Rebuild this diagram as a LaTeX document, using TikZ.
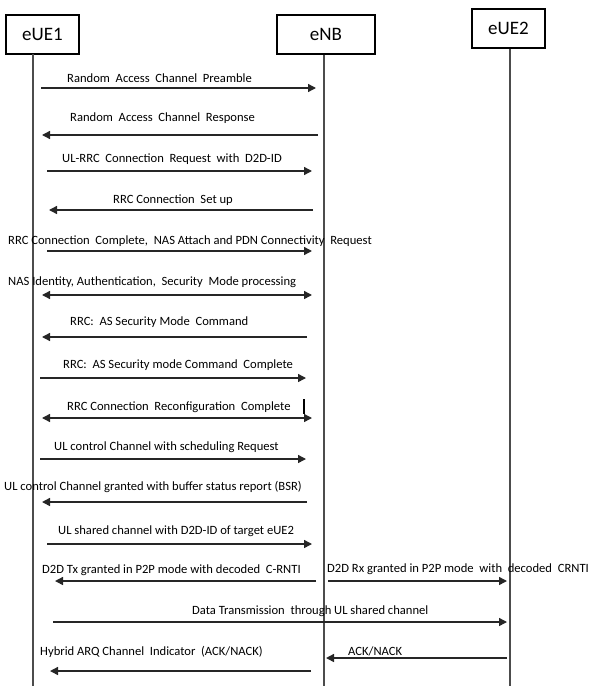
\documentclass[tikz,border=0pt]{standalone}
\usepackage{fontspec}
\setmainfont{Carlito}
\usetikzlibrary{arrows.meta}

\begin{document}
\begin{tikzpicture}[x=1pt, y=-1pt,
      actor/.style = {draw, line width=1.3pt, minimum height=39pt, inner sep=0pt, font=\fontsize{19}{22}\selectfont},
      lbl/.style = {anchor=west, inner sep=0pt, font=\fontsize{12.6}{14}\selectfont},
      life/.style = {draw=black!70, line width=1.4pt},
      msg/.style = {draw=black!85, line width=1.4pt, -{Triangle[length=8pt,width=8pt]}},
      both/.style = {msg, {Triangle[length=8pt,width=8pt]}-{Triangle[length=8pt,width=8pt]}}]
  \useasboundingbox (0,0) rectangle (599,686);
  % actors and lifelines
  \node[actor, minimum width=73pt] (eUE1) at (42.5,34.5) {eUE1};
  \node[actor, minimum width=98pt] (eNB) at (326,34.5) {eNB};
  \node[actor, minimum width=73pt] (eUE2) at (508.5,28.5) {eUE2};
  \coordinate (l1) at (33,54); \coordinate (l1end) at (33,686);
  \coordinate (l2end) at (324,686);
  \coordinate (l3end) at (510,686);
  \draw[life] (l1) -- (l1end);
  \draw[life] (eNB.south -| l2end) -- (l2end);
  \draw[life] (eUE2.south -| l3end) -- (l3end);

  % messages
  \node[lbl] (t1) at (67,78) {Random\ \ Access\ \ Channel\ \ Preamble};
  \coordinate (m1a) at (41,88); \coordinate (m1b) at (316,88);
  \draw[msg] (m1a) -- (m1b);

  \node[lbl] (t2) at (70,118) {Random\ \ Access\ \ Channel\ \ Response};
  \coordinate (m2a) at (318,135); \coordinate (m2b) at (42,135);
  \draw[msg] (m2a) -- (m2b);

  \node[lbl] (t3) at (62,159) {UL-RRC\ \ Connection\ \ Request\ \ with\ \ D2D-ID};
  \coordinate (m3a) at (47,171); \coordinate (m3b) at (312,171);
  \draw[msg] (m3a) -- (m3b);

  \node[lbl] (t4) at (113,200) {RRC Connection\ \ Set up};
  \coordinate (m4a) at (313,210); \coordinate (m4b) at (49,210);
  \draw[msg] (m4a) -- (m4b);

  \node[lbl] (t5) at (8,241) {RRC Connection\ \ Complete,\ \ NAS Attach and PDN Connectivity\ \ Request};
  \coordinate (m5a) at (47,251); \coordinate (m5b) at (312,251);
  \draw[msg] (m5a) -- (m5b);

  \node[lbl] (t6) at (8,282) {NAS Identity, Authentication,\ \ Security\ \ Mode processing};
  \coordinate (m6a) at (42,295); \coordinate (m6b) at (312,295);
  \draw[both] (m6a) -- (m6b);

  \node[lbl] (t7) at (70,322) {RRC:\ \ AS Security Mode\ \ Command};
  \coordinate (m7a) at (307,337); \coordinate (m7b) at (42,337);
  \draw[msg] (m7a) -- (m7b);

  \node[lbl] (t8) at (63,365) {RRC:\ \ AS Security mode Command\ \ Complete};
  \coordinate (m8a) at (40,378); \coordinate (m8b) at (306,378);
  \draw[msg] (m8a) -- (m8b);

  \node[lbl] (t9) at (67,407) {RRC Connection\ \ Reconfiguration\ \ Complete};
  \coordinate (c9a) at (304,399); \coordinate (c9b) at (304,414);
  \draw[line width=1.5pt] (c9a) -- (c9b);
  \coordinate (m9a) at (42,418); \coordinate (m9b) at (312,418);
  \draw[both] (m9a) -- (m9b);

  \node[lbl] (t10) at (54,447) {UL control Channel with scheduling Request};
  \coordinate (m10a) at (40,459); \coordinate (m10b) at (306,459);
  \draw[msg] (m10a) -- (m10b);

  \node[lbl] (t11) at (4,487) {UL control Channel granted with buffer status report (BSR)};
  \coordinate (m11a) at (307,502); \coordinate (m11b) at (42,502);
  \draw[msg] (m11a) -- (m11b);

  \node[lbl] (t12) at (58,531) {UL shared channel with D2D-ID of target eUE2};
  \coordinate (m12a) at (47,544); \coordinate (m12b) at (312,544);
  \draw[msg] (m12a) -- (m12b);

  \node[lbl] (t13) at (42,570) {D2D Tx granted in P2P mode with decoded\ \ C-RNTI};
  \coordinate (m13a) at (316,581); \coordinate (m13b) at (55,581);
  \draw[msg] (m13a) -- (m13b);
  \node[lbl] (t14) at (327,569) {D2D Rx granted in P2P mode\ \ with\ \ decoded\ \ CRNTI};
  \coordinate (m14a) at (328,581); \coordinate (m14b) at (507,581);
  \draw[msg] (m14a) -- (m14b);

  \node[lbl] (t15) at (192,611) {Data Transmission\ \ through UL shared channel};
  \coordinate (m15a) at (53,622); \coordinate (m15b) at (507,622);
  \draw[msg] (m15a) -- (m15b);

  \node[lbl] (t16) at (40,652) {Hybrid ARQ Channel\ \ Indicator\ \ (ACK/NACK)};
  \coordinate (m16a) at (311,671); \coordinate (m16b) at (50,671);
  \draw[msg] (m16a) -- (m16b);
  \node[lbl] (t17) at (348,651) {ACK/NACK};
  \coordinate (m17a) at (507,658); \coordinate (m17b) at (326,658);
  \draw[msg] (m17a) -- (m17b);
\end{tikzpicture}
\end{document}
